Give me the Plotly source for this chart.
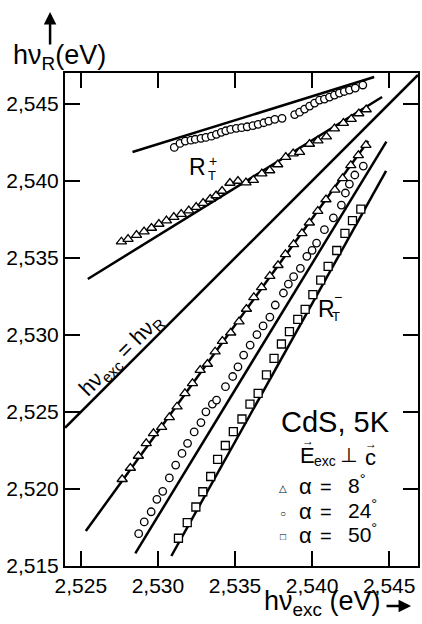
import plotly.graph_objects as go

# ---------------- data ----------------
# R_T+ branch, alpha = 24 deg (circles)
rtp_circ_x = [2.53106, 2.53143, 2.53177, 2.53214, 2.53242, 2.53279, 2.53311, 2.53347, 2.53379,
              2.53411, 2.53440, 2.53472, 2.53508, 2.53543, 2.53579, 2.53616, 2.53650, 2.53687,
              2.53719, 2.53758, 2.53805, 2.53887, 2.53919, 2.53951, 2.53984, 2.54016, 2.54048,
              2.54080, 2.54113, 2.54145, 2.54177, 2.54209, 2.54242, 2.54280, 2.54329]
rtp_circ_y = [2.54217, 2.54243, 2.54258, 2.54264, 2.54270, 2.54276, 2.54282, 2.54290, 2.54302,
              2.54315, 2.54325, 2.54334, 2.54341, 2.54345, 2.54351, 2.54358, 2.54367, 2.54377,
              2.54388, 2.54399, 2.54406, 2.54430, 2.54446, 2.54466, 2.54485, 2.54505, 2.54524,
              2.54531, 2.54544, 2.54557, 2.54570, 2.54580, 2.54589, 2.54602, 2.54622]

# R_T+ branch, alpha = 8 deg (triangles)
rtp_tri_x = [2.52763, 2.52806, 2.52861, 2.52910, 2.52958, 2.53006, 2.53055, 2.53103, 2.53151,
             2.53200, 2.53248, 2.53293, 2.53339, 2.53377, 2.53416, 2.53467, 2.53519, 2.53571,
             2.53619, 2.53674, 2.53725, 2.53777, 2.53829, 2.53877, 2.53919, 2.53983, 2.54038,
             2.54093, 2.54145, 2.54203, 2.54254, 2.54303, 2.54351]
rtp_tri_y = [2.53605, 2.53622, 2.53648, 2.53671, 2.53694, 2.53720, 2.53742, 2.53765, 2.53784,
             2.53807, 2.53830, 2.53856, 2.53882, 2.53905, 2.53934, 2.53986, 2.53999, 2.53989,
             2.54005, 2.54047, 2.54067, 2.54106, 2.54154, 2.54177, 2.54187, 2.54239, 2.54261,
             2.54287, 2.54339, 2.54375, 2.54401, 2.54437, 2.54463]

# R_T- branch, alpha = 8 deg (triangles)
rtm_tri_x = [2.52768, 2.52821, 2.52873, 2.52924, 2.52971, 2.53024, 2.53074, 2.53124, 2.53175,
             2.53224, 2.53274, 2.53321, 2.53371, 2.53418, 2.53472, 2.53526, 2.53574, 2.53622,
             2.53672, 2.53726, 2.53779, 2.53827, 2.53880, 2.53934, 2.53982, 2.54037, 2.54090,
             2.54148, 2.54198, 2.54251, 2.54300, 2.54349]
rtm_tri_y = [2.52063, 2.52136, 2.52214, 2.52296, 2.52361, 2.52402, 2.52465, 2.52534, 2.52621,
             2.52686, 2.52772, 2.52811, 2.52891, 2.52960, 2.53014, 2.53086, 2.53168, 2.53244,
             2.53309, 2.53382, 2.53452, 2.53523, 2.53588, 2.53659, 2.53728, 2.53804, 2.53879,
             2.53942, 2.54016, 2.54101, 2.54165, 2.54232]

# R_T- branch, alpha = 24 deg (circles)
rtm_circ_x = [2.52875, 2.52911, 2.52956, 2.52993, 2.53031, 2.53074, 2.53115, 2.53156, 2.53192,
              2.53235, 2.53279, 2.53311, 2.53353, 2.53380, 2.53438, 2.53485, 2.53519, 2.53556,
              2.53598, 2.53642, 2.53682, 2.53726, 2.53761, 2.53814, 2.53846, 2.53880, 2.53924,
              2.53966, 2.54000, 2.54029, 2.54080, 2.54138, 2.54190, 2.54216, 2.54242, 2.54277,
              2.54332]
rtm_circ_y = [2.51710, 2.51786, 2.51852, 2.51933, 2.51985, 2.52072, 2.52155, 2.52231, 2.52296,
              2.52370, 2.52431, 2.52501, 2.52551, 2.52577, 2.52664, 2.52730, 2.52793, 2.52869,
              2.52934, 2.53002, 2.53058, 2.53116, 2.53194, 2.53272, 2.53330, 2.53378, 2.53432,
              2.53510, 2.53549, 2.53596, 2.53683, 2.53760, 2.53843, 2.53921, 2.53979, 2.54038,
              2.54096]

# R_T- branch, alpha = 50 deg (squares)
rtm_sq_x = [2.53133, 2.53190, 2.53246, 2.53291, 2.53342, 2.53387, 2.53437, 2.53489, 2.53545,
            2.53597, 2.53650, 2.53704, 2.53753, 2.53801, 2.53853, 2.53907, 2.53955, 2.54005,
            2.54056, 2.54104, 2.54160, 2.54213, 2.54262, 2.54316]
rtm_sq_y = [2.51680, 2.51781, 2.51883, 2.51982, 2.52081, 2.52192, 2.52282, 2.52372, 2.52454,
            2.52551, 2.52621, 2.52740, 2.52848, 2.52941, 2.53021, 2.53101, 2.53166, 2.53261,
            2.53356, 2.53445, 2.53548, 2.53659, 2.53742, 2.53816]

# straight fit lines (end points)
fit_rtp_circ_x = [2.52835, 2.54403]
fit_rtp_circ_y = [2.54187, 2.54674]
fit_rtp_tri_x = [2.52545, 2.54454]
fit_rtp_tri_y = [2.53363, 2.54544]
fit_rtm_tri_x = [2.52532, 2.54364]
fit_rtm_tri_y = [2.51727, 2.54258]
fit_rtm_circ_x = [2.52853, 2.54482]
fit_rtm_circ_y = [2.51582, 2.54254]
fit_rtm_sq_x = [2.53087, 2.54480]
fit_rtm_sq_y = [2.51565, 2.54064]
diag_x = [2.52397, 2.54687]
diag_y = [2.52397, 2.54687]

x_range = [2.52397, 2.54687]
y_range = [2.515, 2.547]
x_ticks = [2.525, 2.530, 2.535, 2.540, 2.545]
x_tick_labels = ["2,525", "2,530", "2,535", "2,540", "2,545"]
y_ticks = [2.515, 2.520, 2.525, 2.530, 2.535, 2.540, 2.545]
y_tick_labels = ["2,515", "2,520", "2,525", "2,530", "2,535", "2,540", "2,545"]

# ---------------- figure ----------------
FONT = "Liberation Sans, Arial, DejaVu Sans, sans-serif"
W, H = 422, 624
ML, MR, MT, MB = 65, 2, 73, 58
PW, PH = W - ML - MR, H - MT - MB

fig = go.Figure()

LINE = dict(color="black", width=2.5)
for lx, ly in [(diag_x, diag_y), (fit_rtp_circ_x, fit_rtp_circ_y), (fit_rtp_tri_x, fit_rtp_tri_y),
               (fit_rtm_tri_x, fit_rtm_tri_y), (fit_rtm_circ_x, fit_rtm_circ_y),
               (fit_rtm_sq_x, fit_rtm_sq_y)]:
    fig.add_trace(go.Scatter(x=lx, y=ly, mode="lines", line=LINE, hoverinfo="skip"))


def mk(symbol, size):
    return dict(symbol=symbol, size=size, color="white", line=dict(color="black", width=1.3))


fig.add_trace(go.Scatter(x=rtp_circ_x, y=rtp_circ_y, mode="markers", marker=mk("circle", 7.5)))
fig.add_trace(go.Scatter(x=rtp_tri_x, y=rtp_tri_y, mode="markers", marker=mk("triangle-up", 9)))
fig.add_trace(go.Scatter(x=rtm_tri_x, y=rtm_tri_y, mode="markers", marker=mk("triangle-up", 9)))
fig.add_trace(go.Scatter(x=rtm_circ_x, y=rtm_circ_y, mode="markers", marker=mk("circle", 7.5)))
fig.add_trace(go.Scatter(x=rtm_sq_x, y=rtm_sq_y, mode="markers", marker=mk("square", 8)))


def P(px, py):
    return dict(x=(px - ML) / PW, y=(H - MB - py) / PH, xref="paper", yref="paper")


ann = []


def txt(text, px, py, size, xa="center", ya="middle", angle=0):
    d = P(px, py)
    d.update(text=text, showarrow=False, xanchor=xa, yanchor=ya, textangle=angle,
             font=dict(family=FONT, size=size, color="black"))
    ann.append(d)


def arrow(px, py, ax, ay):
    d = P(px, py)
    d.update(text="", showarrow=True, ax=ax, ay=ay, arrowhead=2, arrowsize=1, arrowwidth=2.5,
             arrowcolor="black", standoff=0, startstandoff=0)
    ann.append(d)


# axis titles
txt("hν<sub>R</sub>(eV)", 11, 57, 27, xa="left")
txt("hν<sub>exc</sub> (eV)", 384, 603, 27, xa="right")
arrow(50, 12, 0, 34)
arrow(413, 606, -26, 0)

# in-plot labels
txt("hν<sub>exc</sub> = hν<sub>R</sub>", 122, 355, 22, angle=-45)
txt("R", 198, 167, 23)
txt("+", 214, 161, 14)
txt("T", 213, 175, 13)
txt("R", 328, 309, 23)
txt("−", 340, 297, 14)
txt("T", 338, 316, 13)
txt("CdS, 5K", 337, 422, 29)
txt("E", 309, 455, 22)
txt("exc", 326, 461, 14)
txt("⊥", 350, 455, 20)
txt("c", 372, 457, 22)
txt("→", 309, 441, 12)
txt("→", 373, 444, 12)
# legend
txt("△", 284.5, 488, 10)
txt("○", 284.5, 513, 10)
txt("□", 284.5, 536.5, 10)
for yy, val in [(486, "8"), (511, "24"), (535, "50")]:
    txt("α", 307, yy, 22)
    txt("=", 327, yy + 1, 20)
    txt(val + "<sup>°</sup>", 348, yy - 2, 21, xa="left")

AX = dict(showline=True, linewidth=2, linecolor="black", mirror="ticks", ticks="inside",
          ticklen=15, tickwidth=1.5, tickcolor="black", showgrid=False, zeroline=False,
          tickfont=dict(family=FONT, size=21, color="black"))

fig.update_layout(
    width=W, height=H, margin=dict(l=ML, r=MR, t=MT, b=MB, pad=0),
    plot_bgcolor="white", paper_bgcolor="white", showlegend=False,
    xaxis=dict(range=x_range, tickvals=x_ticks, ticktext=x_tick_labels, **AX),
    yaxis=dict(range=y_range, tickvals=y_ticks, ticktext=y_tick_labels, **AX),
    annotations=ann,
)

fig.write_html(
    "out.html",
    config={"displayModeBar": False},
    post_script="document.body.style.margin='0';document.body.style.overflow='hidden';"
                "document.documentElement.style.overflow='hidden';",
)
